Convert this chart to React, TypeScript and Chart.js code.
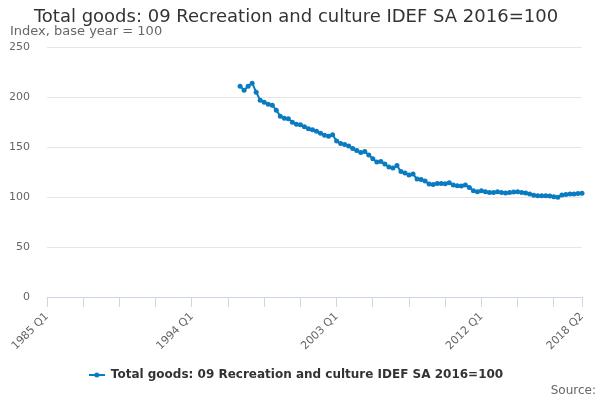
import { useEffect, useRef } from "react";
import Chart from "chart.js/auto";

// quarters on the x axis, 1985 Q1 .. 2018 Q2
const firstYear = 1985;
const lastYear = 2018;
const lastQuarter = 2;

const quarters: string[] = [];
for (let y = firstYear; y <= lastYear; y++) {
  for (let q = 1; q <= 4; q++) {
    if (y === lastYear && q > lastQuarter) break;
    quarters.push(`${y} Q${q}`);
  }
}

// the series only begins in 1997 Q1
const seriesStart = "1997 Q1";
const recreationGoods = [
  211, 207, 211, 214, 205, 197, 195, 193, 192, 187,
  181, 179, 178.5, 175, 173, 172.3, 170.5, 168.5, 167.5, 166,
  164, 162, 161, 162.5, 156, 153.5, 152.5, 151, 148.5, 146.5,
  144.5, 145.5, 142, 138.3, 135, 135.5, 133, 130, 129, 131.5,
  125.5, 124, 122, 123, 118, 117.5, 116, 113, 112.5, 113.5,
  113.5, 113.3, 114.3, 112, 111.3, 111, 112, 109.7, 106.3, 105.3,
  106.3, 105.3, 104.7, 104.7, 105.3, 104.7, 104, 104.7, 105, 105.3,
  104.5, 104, 103, 101.8, 101.3, 101.3, 101.3, 101, 100.3, 99.8,
  102, 102.5, 103, 103, 103.5, 103.8,
];

const labelledTicks = ["1985 Q1", "1994 Q1", "2003 Q1", "2012 Q1", "2018 Q2"];
const tickEvery = 9; // tick marks every 9 quarters
const yMax = 250;
const yStep = 50;

const seriesName = "Total goods: 09 Recreation and culture IDEF SA 2016=100";
const blue = "#0a7bc1";

const padded: (number | null)[] = quarters.map(() => null);
const startIdx = quarters.indexOf(seriesStart);
recreationGoods.forEach((v, i) => (padded[startIdx + i] = v));

// legend symbol: short line with a dot
function legendSymbol() {
  const c = document.createElement("canvas");
  c.width = 16;
  c.height = 8;
  const ctx = c.getContext("2d")!;
  ctx.strokeStyle = blue;
  ctx.lineWidth = 2;
  ctx.beginPath();
  ctx.moveTo(0, 4);
  ctx.lineTo(16, 4);
  ctx.stroke();
  ctx.fillStyle = blue;
  ctx.beginPath();
  ctx.arc(8, 4, 2.5, 0, Math.PI * 2);
  ctx.fill();
  return c;
}

export default function App() {
  const canvasRef = useRef<HTMLCanvasElement>(null);
  const chartRef = useRef<Chart | null>(null);

  useEffect(() => {
    document.body.style.margin = "0";
    if (!canvasRef.current) return;
    chartRef.current?.destroy();

    Chart.defaults.font.family = "'DejaVu Sans', sans-serif";
    const last = quarters.length - 1;

    chartRef.current = new Chart(canvasRef.current, {
      type: "line",
      data: {
        labels: quarters,
        datasets: [
          {
            label: seriesName,
            data: padded,
            borderColor: blue,
            backgroundColor: blue,
            borderWidth: 2,
            pointRadius: 2.5,
            pointBorderWidth: 0,
            tension: 0,
          },
        ],
      },
      options: {
        animation: false,
        responsive: false,
        layout: { padding: { left: 10, right: 18, top: 0, bottom: 9 } },
        plugins: {
          tooltip: { enabled: false },
          title: {
            display: true,
            text: "Total goods: 09 Recreation and culture IDEF SA 2016=100",
            color: "#333333",
            font: { size: 18, weight: "normal", lineHeight: 0.9 },
            padding: { top: 9, bottom: 0 },
          },
          subtitle: {
            display: true,
            text: "Index, base year = 100",
            align: "start",
            color: "#666666",
            font: { size: 13, lineHeight: 1 },
            padding: { top: 0, bottom: 9 },
          },
          legend: {
            position: "bottom",
            labels: {
              usePointStyle: true,
              pointStyle: legendSymbol(),
              pointStyleWidth: 16,
              color: "#333333",
              font: { size: 12, weight: "bold" },
              padding: 10,
            },
          },
        },
        scales: {
          x: {
            ticks: {
              autoSkip: false,
              minRotation: 45,
              maxRotation: 45,
              color: "#666666",
              font: { size: 11 },
              padding: 3,
              callback: (_v, i) => {
                const lab = quarters[i];
                if (labelledTicks.includes(lab)) return lab;
                if (i % tickEvery === 0 || i === last) return "";
                return null;
              },
            },
            grid: {
              drawOnChartArea: false,
              drawTicks: true,
              tickLength: 10,
              color: "#ccd6eb",
            },
            border: { color: "#ccd6eb" },
            afterFit: (scale) => {
              scale.height = 62;
            },
          },
          y: {
            min: 0,
            max: yMax,
            ticks: {
              stepSize: yStep,
              color: "#666666",
              font: { size: 11 },
              padding: 17,
            },
            grid: { color: "#e6e6e6", drawTicks: false },
            border: { display: false },
            afterFit: (scale) => {
              scale.width = 37;
            },
          },
        },
      },
    });

    return () => {
      chartRef.current?.destroy();
      chartRef.current = null;
    };
  }, []);

  return (
    <div style={{ position: "relative", width: 600, height: 400 }}>
      <canvas ref={canvasRef} width={600} height={400} />
      <div
        style={{
          position: "absolute",
          right: 4,
          bottom: 3,
          fontFamily: "'DejaVu Sans', sans-serif",
          fontSize: 12,
          color: "#666666",
        }}
      >
        Source:
      </div>
    </div>
  );
}
